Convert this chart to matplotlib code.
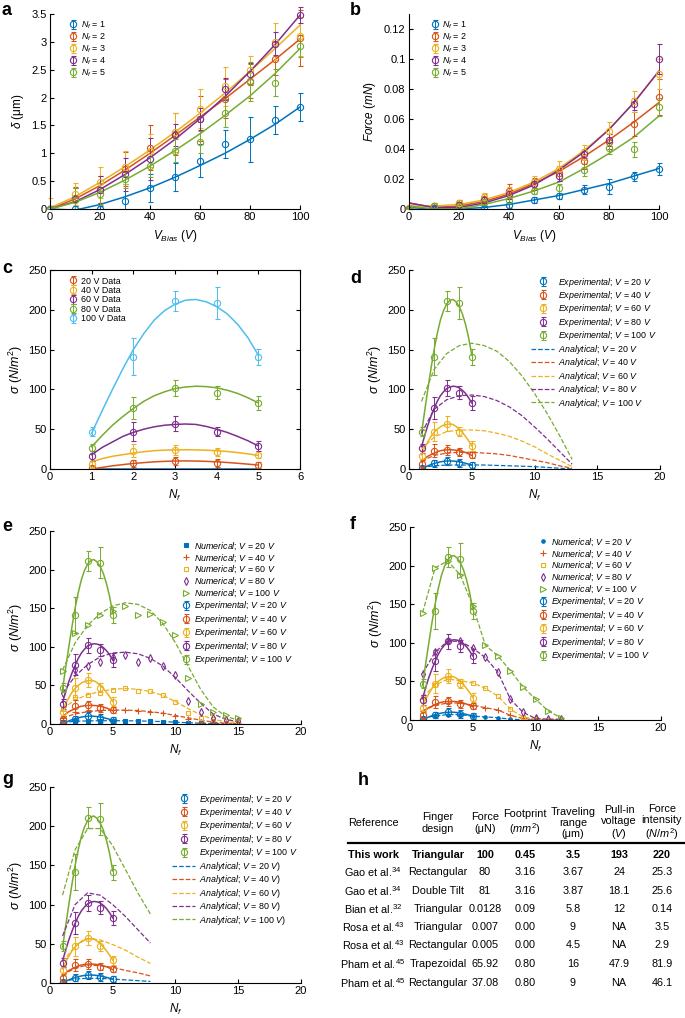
import matplotlib
matplotlib.use('Agg')
import matplotlib.pyplot as plt
from matplotlib.ticker import FuncFormatter
from matplotlib.transforms import Bbox, TransformedBbox

plt.rcParams['font.family'] = ['Liberation Sans', 'DejaVu Sans']
plt.rcParams['mathtext.fontset'] = 'custom'
plt.rcParams['mathtext.rm'] = 'Liberation Sans'
plt.rcParams['mathtext.it'] = 'Liberation Sans:italic'
plt.rcParams['mathtext.bf'] = 'Liberation Sans:bold'

COLORS = ['#0072BD', '#D95319', '#EDB120', '#7E2F8E', '#77AC30', '#4DBEEE']

# ---------------- panel a / b : sweep of bias voltage ----------------
v_bias = [0, 10, 20, 30, 40, 50, 60, 70, 80, 90, 100]

delta_nf1 = [0, 0, 0, 0.15, 0.38, 0.58, 0.87, 1.17, 1.25, 1.6, 1.83]
delta_nf2 = [0, 0.2, 0.35, 0.72, 1.1, 1.35, 1.62, 1.98, 2.3, 2.7, 3.07]
delta_nf3 = [0, 0.27, 0.48, 0.75, 1.05, 1.38, 1.8, 2.2, 2.5, 3.0, 3.1]
delta_nf4 = [0, 0.18, 0.35, 0.62, 0.9, 1.33, 1.62, 2.15, 2.42, 2.97, 3.48]
delta_nf5 = [0, 0.17, 0.27, 0.53, 0.78, 1.05, 1.2, 1.73, 2.28, 2.27, 2.93]
delta_err_nf1 = [0, 0.05, 0.05, 0.3, 0.25, 0.25, 0.3, 0.25, 0.4, 0.25, 0.25]
delta_err_nf2 = [0.05, 0.2, 0.25, 0.3, 0.4, 0.38, 0.4, 0.35, 0.3, 0.3, 0.5]
delta_err_nf3 = [0.2, 0.2, 0.28, 0.3, 0.3, 0.35, 0.35, 0.35, 0.25, 0.33, 0.35]
delta_err_nf4 = [0.05, 0.2, 0.25, 0.3, 0.38, 0.2, 0.2, 0.2, 0.2, 0.2, 0.15]
delta_err_nf5 = [0.05, 0.2, 0.2, 0.15, 0.2, 0.2, 0.2, 0.25, 0.35, 0.25, 0.2]
delta_fit_nf1 = [0, -0.02, 0.08, 0.22, 0.38, 0.57, 0.78, 1.0, 1.25, 1.52, 1.83]
delta_fit_nf2 = [0, 0.18, 0.42, 0.7, 1.0, 1.32, 1.65, 1.98, 2.33, 2.68, 3.05]
delta_fit_nf3 = [0.02, 0.22, 0.48, 0.76, 1.06, 1.38, 1.72, 2.08, 2.47, 2.88, 3.3]
delta_fit_nf4 = [0, 0.13, 0.35, 0.62, 0.92, 1.25, 1.62, 2.02, 2.47, 2.95, 3.48]
delta_fit_nf5 = [0, 0.12, 0.3, 0.52, 0.77, 1.05, 1.35, 1.68, 2.03, 2.43, 2.88]

force_nf1 = [0, 0, 0, 0.001, 0.003, 0.006, 0.009, 0.013, 0.015, 0.022, 0.027]
force_nf2 = [0.001, 0.002, 0.004, 0.007, 0.012, 0.017, 0.024, 0.032, 0.045, 0.057, 0.075]
force_nf3 = [0.001, 0.002, 0.004, 0.008, 0.011, 0.018, 0.027, 0.038, 0.052, 0.072, 0.09]
force_nf4 = [0, 0.001, 0.003, 0.006, 0.01, 0.017, 0.022, 0.037, 0.046, 0.07, 0.1]
force_nf5 = [0, 0.002, 0.002, 0.005, 0.006, 0.012, 0.014, 0.026, 0.041, 0.04, 0.068]
force_err_nf1 = [0.001, 0.001, 0.001, 0.001, 0.002, 0.002, 0.002, 0.003, 0.005, 0.003, 0.004]
force_err_nf2 = [0.001, 0.002, 0.002, 0.003, 0.005, 0.004, 0.005, 0.005, 0.005, 0.008, 0.012]
force_err_nf3 = [0.001, 0.002, 0.002, 0.003, 0.004, 0.004, 0.005, 0.005, 0.006, 0.007, 0.01]
force_err_nf4 = [0.001, 0.001, 0.002, 0.002, 0.003, 0.003, 0.003, 0.003, 0.004, 0.004, 0.01]
force_err_nf5 = [0.001, 0.002, 0.002, 0.002, 0.002, 0.002, 0.003, 0.004, 0.004, 0.005, 0.006]
force_fit_nf1 = [0.001, 0, 0, 0.001, 0.003, 0.006, 0.009, 0.013, 0.017, 0.022, 0.027]
force_fit_nf2 = [0.004, 0.001, 0.002, 0.005, 0.01, 0.017, 0.025, 0.035, 0.046, 0.058, 0.071]
force_fit_nf3 = [0.002, 0.002, 0.003, 0.006, 0.011, 0.018, 0.027, 0.039, 0.053, 0.071, 0.092]
force_fit_nf4 = [0.004, 0.001, 0.001, 0.004, 0.009, 0.016, 0.026, 0.038, 0.053, 0.071, 0.092]
force_fit_nf5 = [0.002, 0, 0, 0.003, 0.007, 0.012, 0.018, 0.027, 0.037, 0.048, 0.062]

# ---------------- panels c-g : stress vs number of fingers ----------------
n_exp = [1, 2, 3, 4, 5]
sigma_20v = [1, 7, 10, 8, 5]
sigma_40v = [6, 23, 24, 21, 18]
sigma_60v = [16, 47, 57, 47, 29]
sigma_80v = [26, 77, 102, 96, 83]
sigma_100v = [47, 141, 211, 209, 141]
sigma_err_20v = [3, 4, 5, 5, 4]
sigma_err_40v = [5, 8, 6, 5, 4]
sigma_err_60v = [6, 12, 9, 6, 6]
sigma_err_80v = [6, 14, 10, 8, 9]
sigma_err_100v = [6, 23, 13, 20, 10]

# fitted curves (every 0.25)
n_fit = [1, 1.25, 1.5, 1.75, 2, 2.25, 2.5, 2.75, 3, 3.25, 3.5, 3.75, 4, 4.25, 4.5, 4.75, 5]
fit_0v = [0, 0, 0, 0, 0, 0, 0, 0, 0, 0, 0, 0, 0, 0, 0, 0, 0]
fit_20v = [0, 2, 4, 5.5, 7, 8, 9, 9.6, 10, 10.2, 10, 9.6, 9, 8.2, 7.2, 6.1, 5]
fit_40v = [9, 13, 16, 18, 20, 21.7, 23, 23.7, 24, 24.2, 24, 23.6, 23, 22, 20.7, 19, 17]
fit_60v = [18, 27, 34, 41, 46, 50, 53, 55, 56, 56.5, 56, 53.5, 50, 46, 41, 35.5, 29]
fit_80v = [28, 42, 55, 66, 76, 85, 92, 97, 101, 103, 104, 103.5, 102, 99, 95, 89.5, 83]
fit_100v = [45, 73, 100, 126, 150, 170, 187, 199, 207, 212, 213, 210, 204, 195, 182, 165, 143]

# panel d analytical
n_ana_d = [1, 2, 3, 4, 5, 6, 7, 8, 9, 10, 11, 12, 13]
ana_d_20v = [2, 4, 5, 5, 5, 5, 4.5, 4, 3.5, 3, 2, 1, 0]
ana_d_40v = [10, 17, 20, 21, 21, 20, 19, 17, 14, 11, 8, 4, 1]
ana_d_60v = [25, 40, 47, 49, 49, 48, 45, 41, 35, 28, 19, 11, 3]
ana_d_80v = [45, 75, 87, 92, 93, 91, 86, 78, 67, 53, 38, 22, 6]
ana_d_100v = [85, 125, 145, 155, 158, 155, 148, 135, 117, 95, 70, 42, 12]

# panel e numerical
n_num_e = [1, 2, 3, 4, 5, 6, 7, 8, 9, 10, 11, 12, 13, 14, 15]
num_e_20v = [2, 4, 4, 4, 4, 4, 4, 3.5, 3, 2, 1, 1, 0.5, 0.3, 0.2]
num_e_40v = [8, 15, 17, 18, 18, 18, 17, 16, 14, 11, 6, 3, 2, 1, 1]
num_e_60v = [20, 35, 38, 40, 44, 46, 43, 43, 38, 29, 14, 8, 6, 4, 4]
num_e_80v = [40, 70, 75, 80, 87, 90, 80, 86, 75, 64, 30, 15, 8, 5, 4]
num_e_100v = [69, 118, 128, 141, 146, 153, 141, 142, 132, 115, 59, 26, 16, 12, 8]
line_e_20v = [2, 3.5, 4, 4.2, 4.3, 4.2, 4, 3.6, 3.1, 2.4, 1.6, 1, 0.5, 0.2, 0.1]
line_e_40v = [8, 13, 16, 17.5, 18, 18, 17.5, 16, 14, 11, 8, 5, 2.5, 1, 0.5]
line_e_60v = [20, 31, 38, 42, 45, 46, 45, 42, 37, 29, 20, 12, 6, 3, 2]
line_e_80v = [40, 62, 77, 87, 92, 93, 91, 85, 75, 60, 43, 27, 13, 6, 3]
line_e_100v = [70, 105, 128, 143, 153, 157, 155, 147, 130, 105, 75, 45, 22, 10, 5]

# panel f numerical
n_num_f = [1, 2, 3, 4, 5, 6, 7, 8, 9, 10, 11, 12]
num_f_20v = [3, 5, 7, 7, 5, 4, 3, 1, 0.3, 0.1, 0, 0]
num_f_40v = [12, 19, 22, 22, 19, 16, 13, 6, 2, 0.5, 0.2, 0.2]
num_f_60v = [30, 45, 53, 51, 48, 41, 31, 14, 4, 1, 0.5, 0.5]
num_f_80v = [60, 88, 102, 102, 93, 81, 62, 27, 10, 2, 1, 1]
num_f_100v = [139, 197, 206, 188, 148, 97, 83, 64, 43, 27, 12, 3]

# panel g analytical
n_ana_g = [1, 2, 3, 4, 5, 6, 7, 8]
ana_g_20v = [2, 5, 6, 6, 5, 4, 3, 2]
ana_g_40v = [10, 19, 23, 22, 20, 16, 13, 9]
ana_g_60v = [27, 47, 57, 55, 49, 42, 33, 25]
ana_g_80v = [60, 100, 115, 112, 100, 85, 68, 51]
ana_g_100v = [112, 170, 197, 197, 175, 145, 115, 88]

volt_labels = ['20', '40', '60', '80', '100']

# ---------------- panel h : comparison table ----------------
tab_header = ['Reference', 'Finger\ndesign', 'Force\n(μN)', 'Footprint\n($mm^2$)',
              'Traveling\nrange\n(μm)', 'Pull-in\nvoltage\n($V$)',
              'Force\nintensity\n($N/m^2$)']
tab_ref = ['This work', 'Gao et al.$^{34}$', 'Gao et al.$^{34}$', 'Bian et al.$^{32}$',
           'Rosa et al.$^{43}$', 'Rosa et al.$^{43}$', 'Pham et al.$^{45}$',
           'Pham et al.$^{45}$']
tab_design = ['Triangular', 'Rectangular', 'Double Tilt', 'Triangular', 'Triangular',
              'Rectangular', 'Trapezoidal', 'Rectangular']
tab_force = ['100', '80', '81', '0.0128', '0.007', '0.005', '65.92', '37.08']
tab_footprint = ['0.45', '3.16', '3.16', '0.09', '0.00', '0.00', '0.80', '0.80']
tab_range = ['3.5', '3.67', '3.87', '5.8', '9', '4.5', '16', '9']
tab_pullin = ['193', '24', '18.1', '12', 'NA', 'NA', '47.9', 'NA']
tab_intensity = ['220', '25.3', '25.6', '0.14', '3.5', '2.9', '81.9', '46.1']

W, H = 685, 1018
fig = plt.figure(figsize=(W / 100, H / 100), dpi=100)


def make_axes(x0, y0, x1, y1, box=False):
    ax = fig.add_axes([x0 / W, 1 - y1 / H, (x1 - x0) / W, (y1 - y0) / H])
    ax.tick_params(direction='in', length=3, width=0.8, labelsize=8, pad=2.5)
    for s in ['left', 'bottom', 'top', 'right']:
        ax.spines[s].set_linewidth(0.8)
    if not box:
        ax.spines['top'].set_visible(False)
        ax.spines['right'].set_visible(False)
    else:
        ax.tick_params(top=True, right=True)
    fmt = FuncFormatter(lambda v, p: '%g' % v)
    ax.xaxis.set_major_formatter(fmt)
    ax.yaxis.set_major_formatter(fmt)
    return ax


def err(ax, x, y, e, c, label=None, edge=False):
    cont = ax.errorbar(x, y, yerr=e, fmt='o', mfc='none', mec=c, ecolor=c, ms=4.5,
                       mew=0.8, elinewidth=0.7, capsize=1.8, capthick=0.7, label=label)
    if edge:
        # let points at the right / top limit show whole, still clip below zero
        box = TransformedBbox(Bbox([[-0.05, 0], [1.05, 1.1]]), ax.transAxes)
        for art in [cont[0]] + list(cont[1]) + list(cont[2]):
            art.set_clip_box(box)


def panel_label(x, y, s):
    fig.text(x / W, 1 - y / H, s, fontsize=13, fontweight='bold', va='top')


def small_legend(ax, anchor, loc='upper left', hl=1.0, order=None):
    handles, labels = ax.get_legend_handles_labels()
    if order is not None:
        handles = [handles[k] for k in order]
        labels = [labels[k] for k in order]
    ax.legend(handles, labels, loc=loc, bbox_to_anchor=anchor, fontsize=6.4,
              frameon=False, handlelength=hl, handletextpad=0.4, labelspacing=0.05,
              borderaxespad=0)


def sigma_axes(ax):
    ax.set_xlim(0, 20)
    ax.set_ylim(0, 250)
    ax.set_xticks([0, 5, 10, 15, 20])
    ax.set_yticks([0, 50, 100, 150, 200, 250])
    ax.set_xlabel(r'$N_f$', fontsize=8.5, labelpad=4)
    ax.set_ylabel(r'$\sigma$ ($N/m^2$)', fontsize=9, labelpad=2)


exp_data = [sigma_20v, sigma_40v, sigma_60v, sigma_80v, sigma_100v]
exp_err = [sigma_err_20v, sigma_err_40v, sigma_err_60v, sigma_err_80v, sigma_err_100v]
exp_fit = [fit_20v, fit_40v, fit_60v, fit_80v, fit_100v]


def plot_experimental(ax):
    for i in range(5):
        ax.plot(n_fit, exp_fit[i], color=COLORS[i], lw=1.1)
    for i in range(5):
        err(ax, n_exp, exp_data[i], exp_err[i], COLORS[i],
            r'$Experimental$; $V$ = %s $V$' % volt_labels[i])


# ---- a ----
ax = make_axes(50, 14, 300, 209)
d_data = [delta_nf1, delta_nf2, delta_nf3, delta_nf4, delta_nf5]
d_err = [delta_err_nf1, delta_err_nf2, delta_err_nf3, delta_err_nf4, delta_err_nf5]
d_fit = [delta_fit_nf1, delta_fit_nf2, delta_fit_nf3, delta_fit_nf4, delta_fit_nf5]
for i in range(5):
    ax.plot(v_bias, d_fit[i], color=COLORS[i], lw=1.1)
for i in range(5):
    err(ax, v_bias, d_data[i], d_err[i], COLORS[i], r'$N_f$ = %d' % (i + 1), edge=True)
ax.set_xlim(0, 100)
ax.set_ylim(0, 3.5)
ax.set_xticks([0, 20, 40, 60, 80, 100])
ax.set_yticks([0, 0.5, 1, 1.5, 2, 2.5, 3, 3.5])
ax.set_xlabel(r'$V_{Bias}$ ($V$)', fontsize=8.5, labelpad=4)
ax.set_ylabel(r'$\delta$ (μm)', fontsize=8.5, labelpad=4)
small_legend(ax, (0.06, 0.99))
panel_label(2, 2, 'a')

# ---- b ----
ax = make_axes(409, 14, 659, 209)
f_data = [force_nf1, force_nf2, force_nf3, force_nf4, force_nf5]
f_err = [force_err_nf1, force_err_nf2, force_err_nf3, force_err_nf4, force_err_nf5]
f_fit = [force_fit_nf1, force_fit_nf2, force_fit_nf3, force_fit_nf4, force_fit_nf5]
for i in range(5):
    ax.plot(v_bias, f_fit[i], color=COLORS[i], lw=1.1)
for i in range(5):
    err(ax, v_bias, f_data[i], f_err[i], COLORS[i], r'$N_f$ = %d' % (i + 1), edge=True)
ax.set_xlim(0, 100)
ax.set_ylim(0, 0.13)
ax.set_xticks([0, 20, 40, 60, 80, 100])
ax.set_yticks([0, 0.02, 0.04, 0.06, 0.08, 0.1, 0.12])
ax.set_xlabel(r'$V_{Bias}$ ($V$)', fontsize=8.5, labelpad=4)
ax.set_ylabel(r'$Force$ ($mN$)', fontsize=8.5, labelpad=4)
small_legend(ax, (0.07, 0.99))
panel_label(350, 2, 'b')

# ---- c ----
ax = make_axes(50, 270, 300, 469, box=True)
c_colors = COLORS[1:6]
ax.plot(n_fit, fit_0v, color=COLORS[0], lw=1.1)
for i in range(5):
    ax.plot(n_fit, exp_fit[i], color=c_colors[i], lw=1.1)
for i in range(5):
    err(ax, n_exp, exp_data[i], exp_err[i], c_colors[i], '%s V Data' % volt_labels[i])
ax.set_xlim(0, 6)
ax.set_ylim(0, 250)
ax.set_xticks([0, 1, 2, 3, 4, 5, 6])
ax.set_yticks([0, 50, 100, 150, 200, 250])
ax.set_xlabel(r'$N_f$', fontsize=8.5, labelpad=4)
ax.set_ylabel(r'$\sigma$ ($N/m^2$)', fontsize=9, labelpad=2)
small_legend(ax, (0.06, 0.985))
panel_label(2, 260, 'c')

# ---- d ----
ax = make_axes(409, 270, 660, 469)
plot_experimental(ax)
for i, ana in enumerate([ana_d_20v, ana_d_40v, ana_d_60v, ana_d_80v, ana_d_100v]):
    ax.plot(n_ana_d, ana, ls='--', color=COLORS[i], lw=0.9,
            label=r'$Analytical$; $V$ = %s $V$' % volt_labels[i])
sigma_axes(ax)
small_legend(ax, (1.0, 0.99), loc='upper right', hl=2.6,
             order=[5, 6, 7, 8, 9, 0, 1, 2, 3, 4])
panel_label(350, 270, 'd')

# ---- e ----
ax = make_axes(50, 531, 301, 724)
num_e = [num_e_20v, num_e_40v, num_e_60v, num_e_80v, num_e_100v]
line_e = [line_e_20v, line_e_40v, line_e_60v, line_e_80v, line_e_100v]
num_style = [dict(marker='s', ms=2.5, mfc=COLORS[0]), dict(marker='+', ms=4),
             dict(marker='s', ms=3.5, mfc='none'), dict(marker='d', ms=4, mfc='none'),
             dict(marker='>', ms=4, mfc='none')]
for i in range(5):
    ax.plot(n_num_e, line_e[i], ls='--', color=COLORS[i], lw=0.9)
for i in range(5):
    ax.plot(n_num_e, num_e[i], ls='none', color=COLORS[i], mec=COLORS[i], mew=0.8,
            label=r'$Numerical$; $V$ = %s $V$' % volt_labels[i], **num_style[i])
plot_experimental(ax)
sigma_axes(ax)
small_legend(ax, (0.98, 0.97), loc='upper right')
panel_label(2, 518, 'e')

# ---- f ----
ax = make_axes(410, 527, 661, 720)
num_f = [num_f_20v, num_f_40v, num_f_60v, num_f_80v, num_f_100v]
num_style_f = [dict(marker='o', ms=2.5, mfc=COLORS[0]), dict(marker='+', ms=4),
               dict(marker='s', ms=3.5, mfc='none'), dict(marker='d', ms=4, mfc='none'),
               dict(marker='>', ms=4, mfc='none')]
for i in range(5):
    ax.plot(n_num_f, num_f[i], ls='--', color=COLORS[i], lw=0.9)
for i in range(5):
    ax.plot(n_num_f, num_f[i], ls='none', color=COLORS[i], mec=COLORS[i], mew=0.8,
            label=r'$Numerical$; $V$ = %s $V$' % volt_labels[i], **num_style_f[i])
plot_experimental(ax)
sigma_axes(ax)
small_legend(ax, (0.97, 0.97), loc='upper right')
panel_label(350, 516, 'f')

# ---- g ----
ax = make_axes(50, 787, 301, 983)
plot_experimental(ax)
for i, ana in enumerate([ana_g_20v, ana_g_40v, ana_g_60v, ana_g_80v, ana_g_100v]):
    ax.plot(n_ana_g, ana, ls='--', color=COLORS[i], lw=0.9,
            label=r'$Analytical$; $V$ = %s $V$)' % volt_labels[i])
sigma_axes(ax)
small_legend(ax, (1.0, 0.99), loc='upper right', hl=2.6,
             order=[5, 6, 7, 8, 9, 0, 1, 2, 3, 4])
panel_label(2, 771, 'g')

# ---- h : table ----
panel_label(358, 772, 'h')
col_x = [373, 438, 485, 525, 573, 619, 662]
for cx, txt in zip(col_x, tab_header):
    fig.text(cx / W, 1 - 823 / H, txt, ha='center', va='center', fontsize=7.8,
             linespacing=1.15)
fig.add_artist(plt.Line2D([348 / W, 684 / W], [1 - 843 / H, 1 - 843 / H],
                          color='black', lw=1.6))
row_y = [855, 872, 891, 909, 927, 945, 964, 983]
columns = [tab_ref, tab_design, tab_force, tab_footprint, tab_range, tab_pullin,
           tab_intensity]
for r, ry in enumerate(row_y):
    for cx, col in zip(col_x, columns):
        fig.text(cx / W, 1 - ry / H, col[r], ha='center', va='center', fontsize=7.8,
                 fontweight='bold' if r == 0 else 'normal')

plt.savefig('out.png', dpi=100)
